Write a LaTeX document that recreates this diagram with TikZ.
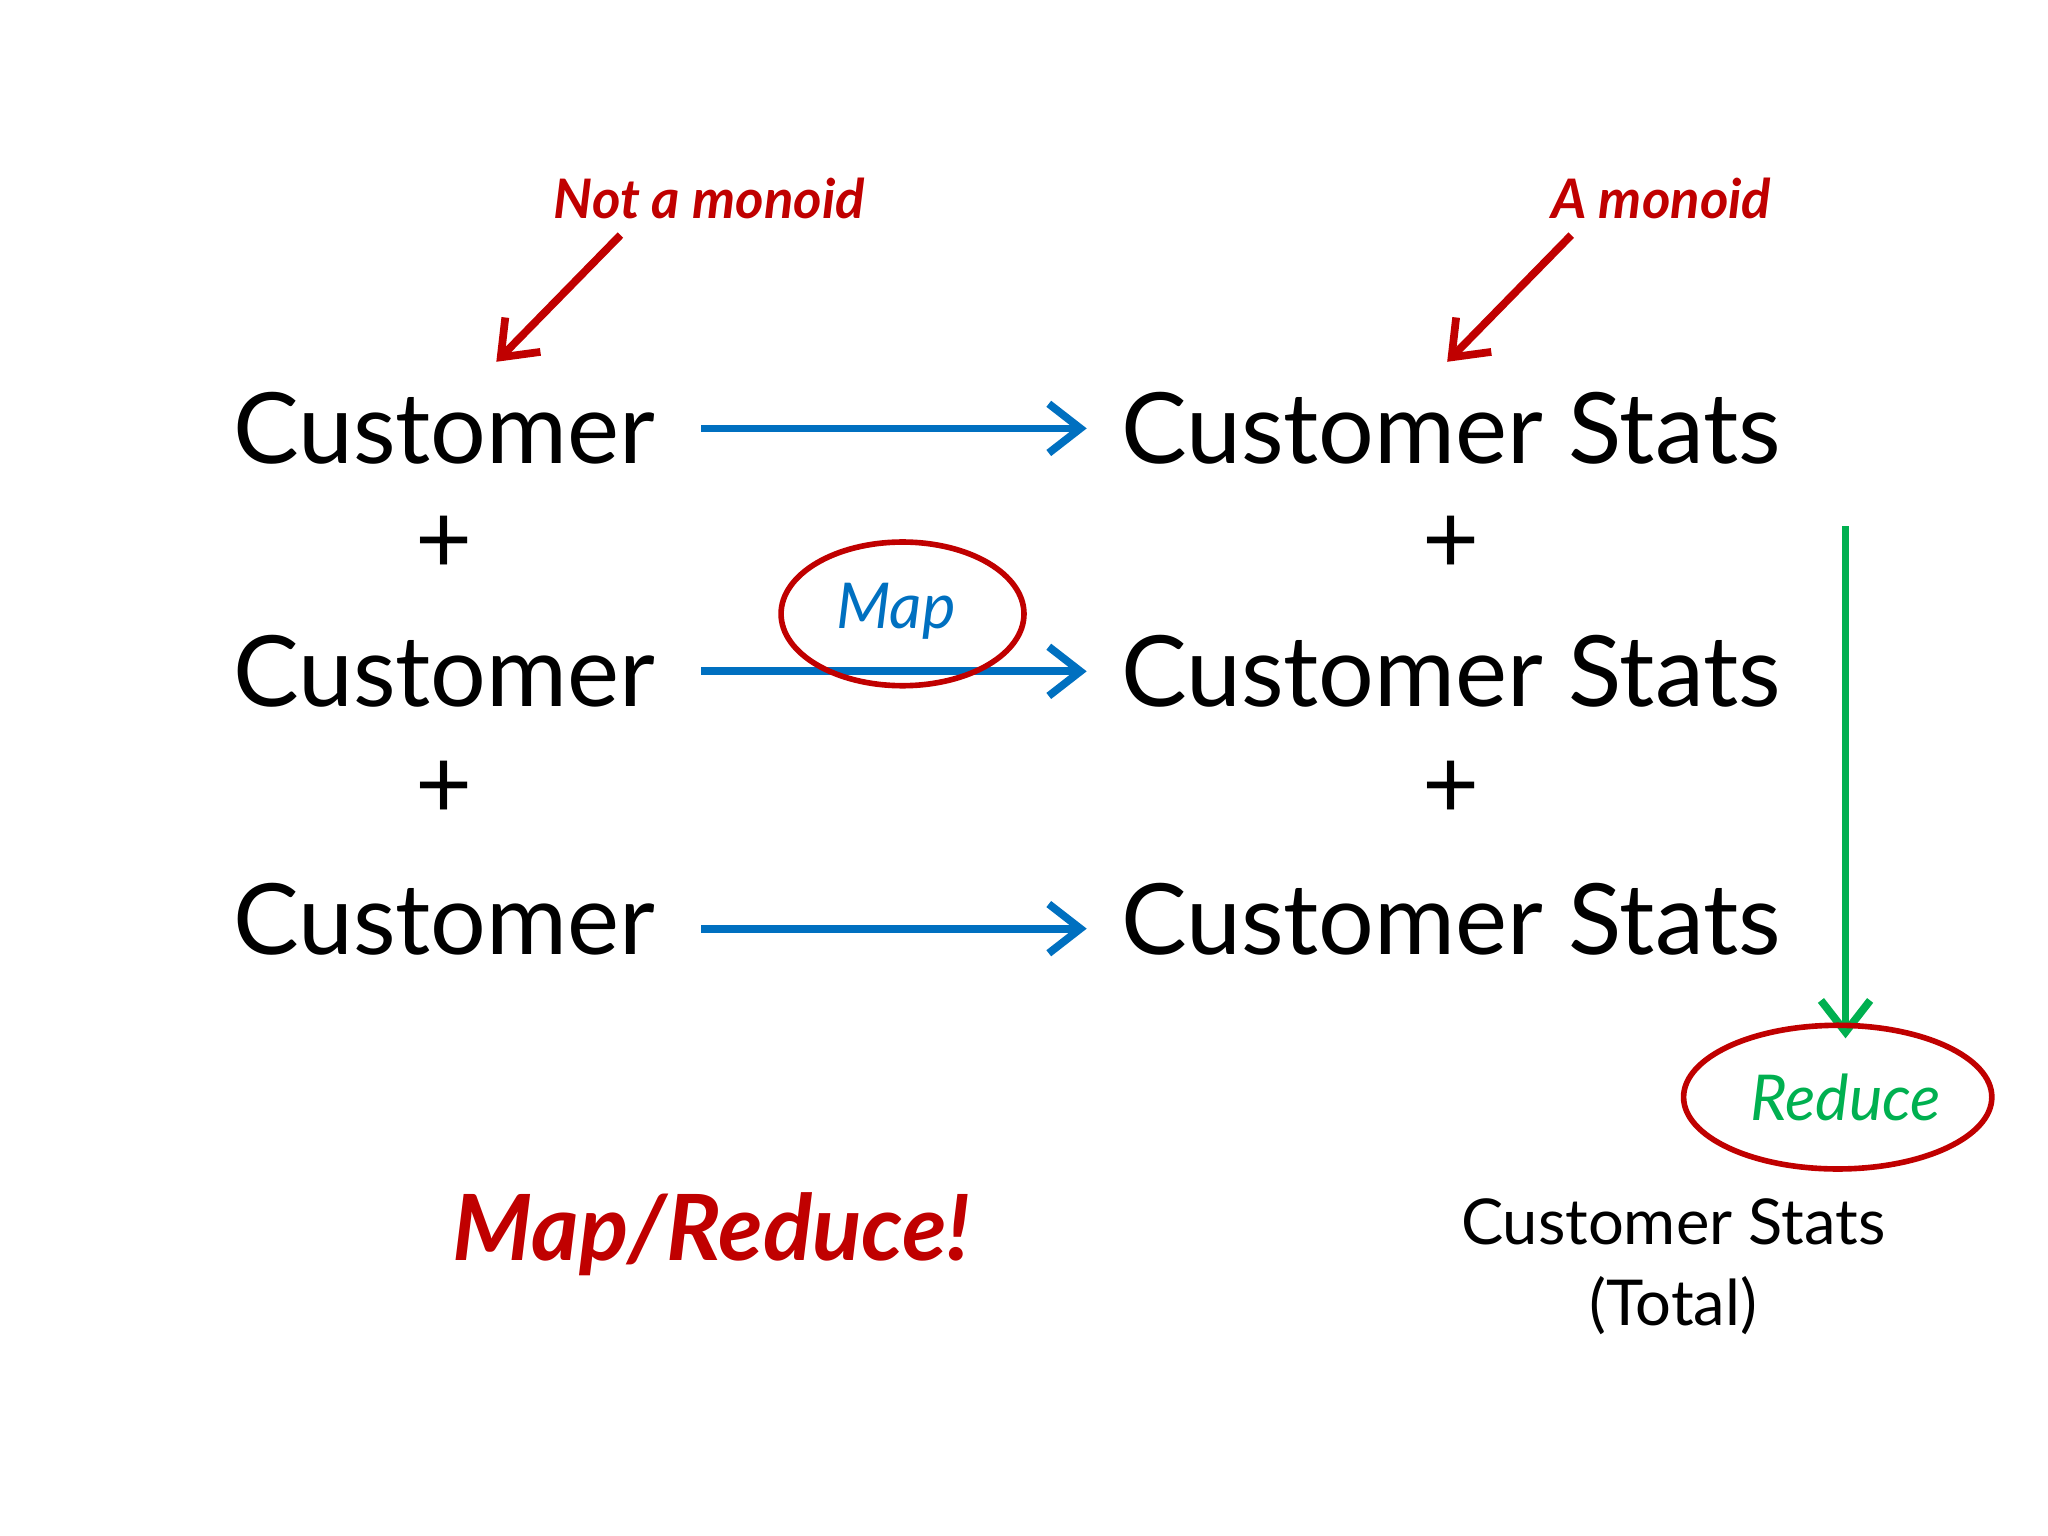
\documentclass[tikz,border=0pt]{standalone}
\usepackage{fontspec}
\setmainfont{Lato}
\usetikzlibrary{arrows.meta}
\definecolor{mblue}{RGB}{0,112,192}
\definecolor{mgreen}{RGB}{0,176,80}
\definecolor{mred}{RGB}{192,0,0}
\begin{document}
\begin{tikzpicture}[x=0.01306cm,y=-0.01306cm,
 big/.style={font=\fontsize{28}{34}\selectfont,inner sep=0},
 blue arr/.style={draw=mblue,line width=2.2pt,-{Straight Barb[length=9pt,width=14pt]}},
 red arr/.style={draw=mred,line width=2.2pt,-{Straight Barb[length=9pt,width=14pt]}},
 hand/.style={text=mred,font=\fontsize{15.5}{18}\selectfont\bfseries\itshape,inner sep=0},
 ring/.style={draw=mred,line width=1.6pt}]
\useasboundingbox (0,0) rectangle (1568,1176);
\node[big] (c1) at (340,328) {Customer};
\node[big] (p1) at (340,417) {+};
\node[big] (c2) at (340,514) {Customer};
\node[big] (p2) at (340,605) {+};
\node[big] (c3) at (340,704) {Customer};
\node[big] (s1) at (1111,328) {Customer Stats};
\node[big] (q1) at (1111,417) {+};
\node[big] (s2) at (1111,514) {Customer Stats};
\node[big] (q2) at (1111,605) {+};
\node[big] (s3) at (1111,704) {Customer Stats};
\draw[blue arr] (537,328) -- (832,328);
\draw[blue arr] (537,514) -- (832,514);
\draw[blue arr] (537,711) -- (832,711);
\draw[ring] (691,470) ellipse [x radius=93,y radius=55];
\node[text=mblue,font=\fontsize{18}{22}\selectfont\itshape] (map) at (686,468) {Map};
\coordinate (gtop) at (1413,403);
\coordinate (gbot) at (1413,795);
\draw[draw=mgreen,line width=2.2pt,-{Straight Barb[length=9pt,width=14pt]}] (gtop) -- (gbot);
\draw[ring] (1407,840) ellipse [x radius=118,y radius=55];
\node[text=mgreen,font=\fontsize{18}{22}\selectfont\itshape] (red) at (1413,840) {Reduce};
\node[font=\fontsize{18}{23}\selectfont,align=center] (tot) at (1281,970) {Customer Stats\\(Total)};
\node[hand] (nm) at (543,152) {Not a monoid};
\node[hand] (am) at (1272,152) {A monoid};
\coordinate (a1) at (475,180); \coordinate (a2) at (380,277);
\coordinate (b1) at (1203,180); \coordinate (b2) at (1108,277);
\draw[red arr] (a1) -- (a2);
\draw[red arr] (b1) -- (b2);
\node[hand,font=\fontsize{26}{30}\selectfont\bfseries\itshape] (mr) at (545,945) {Map/Reduce!};
\end{tikzpicture}
\end{document}
